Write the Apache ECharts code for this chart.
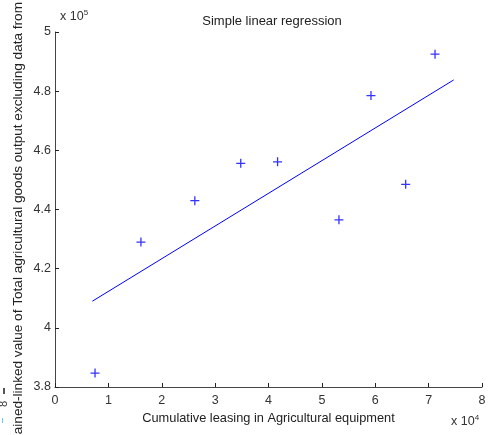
<!DOCTYPE html>
<html><head><meta charset="utf-8">
<script src="https://cdn.jsdelivr.net/npm/echarts@6/dist/echarts.min.js"></script>
<style>html,body{margin:0;padding:0;background:#fff}#c{width:489px;height:435px}</style>
</head><body><div id="c"></div>
<script>
const xValues = [7500, 16100, 26200, 34800, 41700, 53200, 59200, 65700, 71200];
const yValues = [384700, 429000, 443000, 455600, 456100, 436500, 478500, 448500, 492500];
const fitX = [7000, 74700];
const fitY = [409000, 483800];
const xTicks = [0,1,2,3,4,5,6,7,8];
const yTicks = [3.8,4,4.2,4.4,4.6,4.8,5];

const chart = echarts.init(document.getElementById('c'));
const font = 'Liberation Sans, Arial, sans-serif';
chart.setOption({
  animation:false,
  backgroundColor:'#fff',
  title:{text:'Simple linear regression', left:267, top:10, textAlign:'center',
    textStyle:{fontSize:13, fontWeight:'normal', color:'#222', fontFamily:font}},
  grid:{left:55, right:7, top:32, bottom:48},
  xAxis:{type:'value', min:0, max:80000, interval:10000,
    name:'Cumulative leasing in Agricultural equipment', nameLocation:'middle', nameGap:22,
    nameTextStyle:{fontSize:12.8, color:'#222', fontFamily:font},
    axisLine:{lineStyle:{color:'#444', width:1}},
    axisTick:{inside:true, length:4, lineStyle:{color:'#222'}},
    axisLabel:{fontSize:12.5, color:'#333', fontFamily:font, margin:7,
      formatter:v=>String(xTicks[Math.round(v/10000)])},
    splitLine:{show:false}},
  yAxis:{type:'value', min:380000, max:500000, interval:20000,
    axisLine:{show:true, lineStyle:{color:'#444', width:1}},
    axisTick:{show:true, inside:true, length:4, lineStyle:{color:'#222'}},
    axisLabel:{fontSize:12.5, color:'#333', fontFamily:font, margin:4,
      formatter:v=>String(yTicks[Math.round((v-380000)/20000)])},
    splitLine:{show:false}},
  graphic:[
    {type:'text', left:60, top:9, style:{text:'x 10{s|5}', fontSize:12.5, fill:'#333', fontFamily:font,
      rich:{s:{fontSize:8, verticalAlign:'top', padding:[0,0,8,0], fill:'#333'}}}},
    {type:'text', left:451, top:414, style:{text:'x 10{s|4}', fontSize:12.5, fill:'#333', fontFamily:font,
      rich:{s:{fontSize:8, verticalAlign:'top', padding:[0,0,8,0], fill:'#333'}}}},
    {type:'text', x:18, y:2, rotation:Math.PI/2,
      style:{text:'Chained-linked value of Total agricultural goods output excluding data from',
        fontSize:13.6, fill:'#222', fontFamily:font, align:'right', verticalAlign:'middle'}},
    {type:'text', x:4, y:404, rotation:Math.PI/2,
      style:{text:'8', fontSize:11, fill:'#333', fontFamily:font, align:'center', verticalAlign:'middle'}},
    {type:'rect', shape:{x:3, y:388, width:2, height:6}, style:{fill:'#555'}},
    {type:'rect', shape:{x:2, y:418, width:1, height:5}, style:{fill:'#6cf'}}
  ],
  series:[
    {type:'scatter', data:xValues.map((x,i)=>[x,yValues[i]]),
      symbol:'path://M0,-10L0,10M-10,0L10,0', symbolSize:9,
      itemStyle:{color:'none', borderColor:'#0000ff', borderWidth:1.3}},
    {type:'line', data:fitX.map((x,i)=>[x,fitY[i]]), showSymbol:false, symbol:'none',
      lineStyle:{color:'#0000ff', width:1}}
  ]
});
</script></body></html>
